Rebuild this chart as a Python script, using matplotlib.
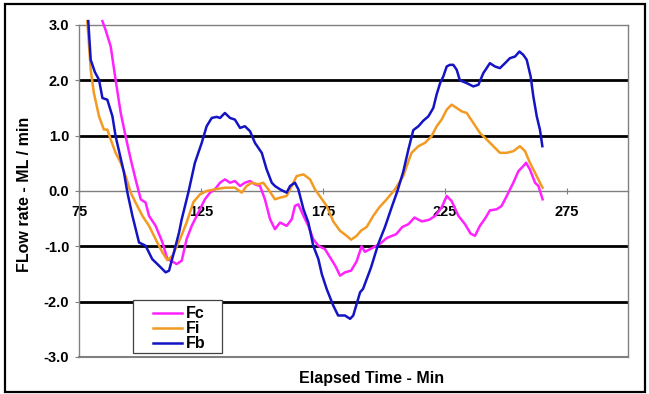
import matplotlib.pyplot as plt
from matplotlib.patches import Rectangle

# Значения
fc_x = [84.6, 85.9, 88, 90, 92.1, 94.1, 96.2, 98.2, 100.3, 102.3, 103.7, 106.4, 109.2, 111.2,
        113.9, 115, 117.1, 119.1, 121.2, 123.9, 126.6, 128.7, 130.7, 132.8, 134.8, 136.9, 138.9,
        141, 143, 145.1, 147.1, 149.2, 151.2, 153.3, 155.3, 157.4, 160.1, 162.2, 163.5, 164.9,
        167, 169, 171, 173.1, 175.8, 177.9, 180, 182, 184, 186.5, 188.8, 190.8, 192.2, 195.6,
        198.5, 201.1, 205, 207.5, 210, 212.5, 215.5, 218.5, 221, 223.6, 225.7, 227.7, 230.5,
        233.2, 235.5, 237.3, 239.3, 241.4, 243.4, 246.2, 248.2, 250.3, 253, 255.1, 257.1, 258.2,
        259.8, 261.9, 263.3, 265]
fc_y = [3.07, 2.91, 2.61, 2.01, 1.41, 0.99, 0.57, 0.21, -0.15, -0.21, -0.45, -0.63, -0.93, -1.23,
        -1.29, -1.32, -1.26, -0.87, -0.63, -0.39, -0.15, -0.03, 0.03, 0.15, 0.21, 0.15, 0.18,
        0.09, 0.15, 0.18, 0.12, 0.09, -0.15, -0.51, -0.69, -0.57, -0.63, -0.51, -0.27, -0.24,
        -0.45, -0.63, -0.87, -0.99, -1.05, -1.2, -1.35, -1.53, -1.47, -1.44, -1.27, -1.0, -1.1, -1.02,
        -0.95, -0.85, -0.78, -0.65, -0.6, -0.48, -0.55, -0.52, -0.45, -0.3, -0.09, -0.18, -0.45,
        -0.6, -0.77, -0.81, -0.63, -0.5, -0.35, -0.33, -0.27, -0.09, 0.15, 0.36, 0.45, 0.51,
        0.39, 0.15, 0.09, -0.15]

fi_x = [78.4, 79.8, 81.1, 83.2, 85.2, 86.6, 88, 90, 92.1, 94.1, 96.2, 98.2, 101, 103.7, 106.4,
        109.2, 111.2, 113.3, 116.4, 119.1, 121.9, 124.6, 127.3, 130.7, 134.8, 138.9, 141.7, 143.7,
        145.8, 148.5, 150.5, 152.6, 155.3, 157.4, 160.1, 162.2, 164.2, 167, 169.7, 171.7, 173.8,
        176.5, 179.2, 182, 184.7, 186.5, 188.8, 190.5, 192.9, 195.6, 198, 201.1, 204.5, 207.9,
        209.3, 211.3, 214.1, 216.8, 219.5, 221.6, 223.6, 225.7, 227.7, 229.8, 231.8, 233.9,
        236.6, 239.3, 242.1, 244.8, 247.5, 250.3, 253, 255.7, 257.8, 259.8, 261.9, 263.9, 265]
fi_y = [3.07, 2.19, 1.77, 1.35, 1.11, 1.11, 0.93, 0.69, 0.51, 0.27, -0.03, -0.21, -0.45, -0.63, -0.87,
        -1.11, -1.25, -1.17, -0.87, -0.57, -0.2, -0.06, 0.0, 0.03, 0.06, 0.06, -0.03, 0.09,
        0.15, 0.12, 0.15, 0.03, -0.15, -0.12, -0.09, 0.09, 0.27, 0.30, 0.21, 0.03, -0.1,
        -0.27, -0.55, -0.72, -0.81, -0.88, -0.81, -0.72, -0.65, -0.45, -0.3, -0.15, 0.03, 0.27,
        0.45, 0.69, 0.81, 0.87, 0.99, 1.17, 1.29, 1.47, 1.56, 1.50, 1.44, 1.41,
        1.23, 1.05, 0.93, 0.81, 0.69, 0.69, 0.72, 0.81, 0.72, 0.51, 0.33, 0.15, 0.06]

fb_x = [78.8, 79.8, 81.5, 83.2, 84.6, 86.6, 88.7, 90, 93.4, 94.8, 96.9, 99.6, 102.3, 105, 107.8,
        110.5, 111.9, 113.9, 116, 117.1, 119.8, 122.5, 125.3, 127.3, 129.4, 131.4, 132.8, 134.8,
        136.9, 138.9, 141, 143, 145.1, 147.1, 149.9, 151.9, 154, 155.3, 157.4, 160.1, 161.5,
        163.5, 164.9, 167, 169, 171, 173.1, 174.5, 176.5, 179.2, 181.2, 184, 186.1, 187.4, 190.2,
        191.4, 194.7, 197.7, 200.4, 203.1, 205.5, 207.9, 210, 212, 214.1, 216.1, 218.2, 220.2,
        221.6, 223, 224.3, 225.7, 227, 228.4, 229.8, 231.1, 233.9, 236.6, 238.7, 240.7, 243.4,
        245.5, 247.5, 249.6, 251.6, 253.7, 255.5, 257.1, 258.5, 260.1, 261.2, 262.6, 263.9, 264.9]
fb_y = [3.07, 2.37, 2.15, 2.01, 1.68, 1.65, 1.35, 0.99, 0.34, -0.02, -0.45, -0.93, -0.99, -1.23, -1.35,
        -1.47, -1.44, -1.11, -0.75, -0.51, -0.03, 0.51, 0.87, 1.17, 1.32, 1.34, 1.32, 1.41,
        1.32, 1.29, 1.14, 1.17, 1.08, 0.87, 0.69, 0.39, 0.15, 0.09, 0.03, -0.03, 0.09,
        0.15, 0.03, -0.33, -0.57, -0.99, -1.23, -1.5, -1.77, -2.07, -2.25, -2.25, -2.31, -2.25, -1.83,
        -1.77, -1.38, -0.95, -0.65, -0.3, 0.0, 0.35, 0.75, 1.1, 1.17, 1.27, 1.35, 1.5,
        1.75, 1.95, 2.07, 2.25, 2.28, 2.28, 2.19, 2.0, 1.95, 1.89, 1.92, 2.13, 2.31,
        2.25, 2.22, 2.31, 2.40, 2.43, 2.52, 2.46, 2.37, 2.07, 1.71, 1.35, 1.11, 0.81]

x_ticks = [75, 125, 175, 225, 275]
y_ticks = [-3, -2, -1, 0, 1, 2, 3]
grid_y = [-2, -1, 1, 2]

plt.rcParams['font.family'] = 'Liberation Sans'
plt.rcParams['font.weight'] = 'bold'

fig = plt.figure(figsize=(6.49, 3.94), dpi=100)
ax = fig.add_axes([79 / 649, 1 - 357 / 394, 549 / 649, 332 / 394])

for g in grid_y:
    ax.axhline(g, color='black', linewidth=2, zorder=1)

ax.plot(fc_x, fc_y, color='#FF22FF', linewidth=1.8, label='Fc', clip_on=False, zorder=3)
ax.plot(fi_x, fi_y, color='#F39A22', linewidth=1.8, label='Fi', clip_on=False, zorder=3)
ax.plot(fb_x, fb_y, color='#1414C4', linewidth=1.8, label='Fb', clip_on=False, zorder=4)

ax.set_xlim(75, 300)
ax.set_ylim(-3, 3)
ax.set_xticks(x_ticks)
ax.set_yticks(y_ticks)
ax.set_yticklabels(['%.1f' % v for v in y_ticks])

# ось X проходит через ноль
ax.spines['bottom'].set_position(('data', 0))
for s in ['bottom', 'top', 'right', 'left']:
    ax.spines[s].set_color('#808080')
    ax.spines[s].set_linewidth(1)
ax.axhline(-3, color='#808080', linewidth=1.5, clip_on=False, zorder=2)

ax.tick_params(axis='x', direction='inout', length=4, color='#808080', pad=8, labelsize=10.5)
ax.tick_params(axis='y', direction='out', length=3, color='#808080', pad=4, labelsize=10.5)

# рамка легенды отдельно
ax.add_patch(Rectangle((0.0984, 0.012), 0.162, 0.16, transform=ax.transAxes,
                       facecolor='white', edgecolor='#404040', linewidth=0.9, zorder=5))
leg = ax.legend(loc='upper left', bbox_to_anchor=((153 - 79) / 549, 0.153), borderaxespad=0,
                frameon=False, fontsize=11.5, borderpad=0, handlelength=1.8,
                handletextpad=0.25, labelspacing=0.0)
leg.set_zorder(6)

fig.text(371.5 / 649, 1 - 378 / 394, 'Elapsed Time - Min', ha='center', va='center',
         fontsize=11.5, fontweight='bold')
fig.text(25 / 649, 1 - 194 / 394, 'FLow rate - ML / min', ha='center', va='center',
         rotation=90, fontsize=11.5, fontweight='bold')

fig.patches.append(Rectangle((5 / 649, 1 - 392 / 394), 640 / 649, 388 / 394,
                             transform=fig.transFigure, fill=False, edgecolor='black',
                             linewidth=1.6))

plt.savefig('out.png', dpi=100)
